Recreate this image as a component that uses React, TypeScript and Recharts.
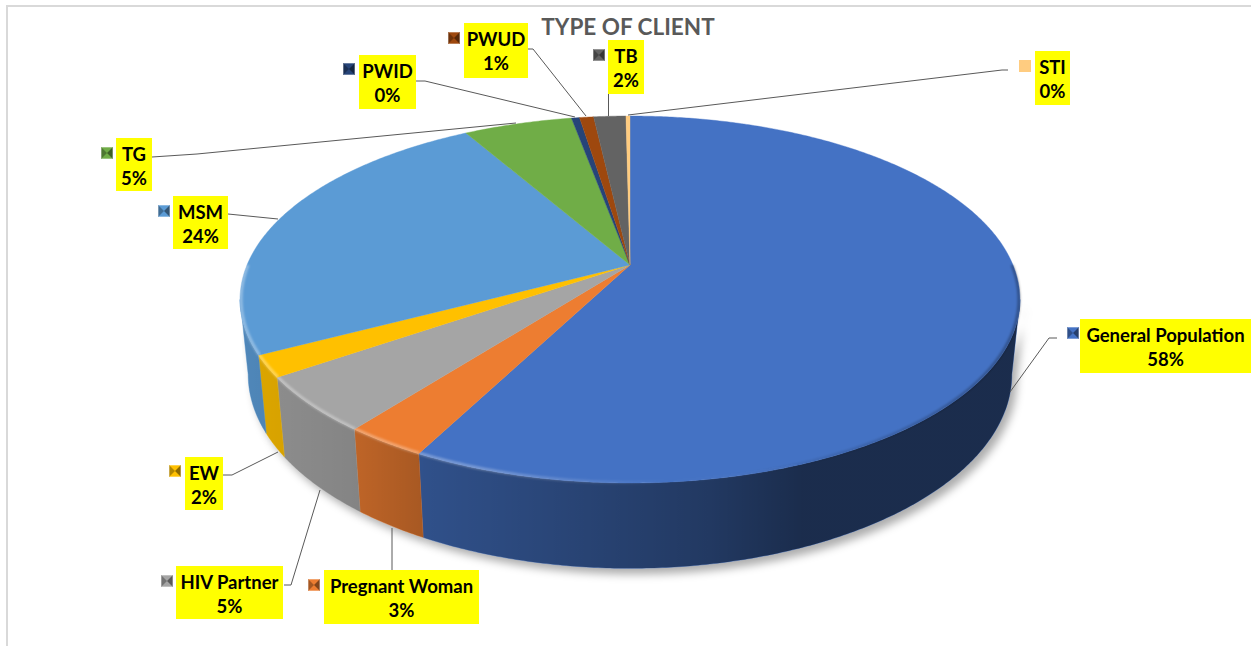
import { PieChart, Pie } from "recharts";

const CLIENT_TYPES = [
  "General Population",
  "Pregnant Woman",
  "HIV Partner",
  "EW",
  "MSM",
  "TG",
  "PWID",
  "PWUD",
  "TB",
  "STI",
];
const SHARES = [57.6, 2.9, 4.9, 1.9, 24.4, 5.4, 0.4, 0.7, 1.6, 0.2];
const COLORS = [
  "#4472c4",
  "#ed7d31",
  "#a5a5a5",
  "#ffc000",
  "#5b9bd5",
  "#70ad47",
  "#264478",
  "#9e480e",
  "#636363",
  "#ffcc80",
];

const data = CLIENT_TYPES.map((name, i) => ({
  name,
  value: SHARES[i],
  fill: COLORS[i],
}));

// ── Label boxes and leader lines, in client order ──
const LABEL_LAYOUT = [
  { box: [1080, 319, 171, 54], key: [1067, 327], leader: "1057,338 1049,338 1010,392" },
  { box: [324, 570, 155, 54], key: [308, 579], leader: "392,570 392,528" },
  { box: [176, 566, 107, 53], key: [161, 575], leader: "284,585 291,585 320,490" },
  { box: [185, 457, 38, 53], key: [169, 465], leader: "223,475 232,475 278,452" },
  { box: [173, 196, 55, 53], key: [158, 205], leader: "228,214 278,219" },
  { box: [116, 138, 36, 53], key: [101, 147], leader: "152,157 197,154 516,123" },
  { box: [359, 55, 57, 54], key: [343, 63], leader: "416,81 425,81 575,117" },
  { box: [464, 23, 64, 55], key: [448, 32], leader: "528,49 533,49 586,116" },
  { box: [608, 40, 36, 54], key: [593, 49], leader: "608.5,94 608.5,116" },
  { box: [1035, 51, 35, 54], key: [1019, 60], leader: "628,115 1002,70 1008,70" },
];

// ── Perspective of the pie: apex sits above the middle of the rim ellipse ──
const TILT = 0.188;
const TOP_SQUASH = 177 / 383;
const BASE_SCALE = 375 / 383;
const BASE_SQUASH = 187 / 383;
const BASE_DROP = 73;
const EDGE_ANGLE = (Math.asin(TILT) * 180) / Math.PI;

function rimPoint(cx: number, cy: number, r: number, deg: number, base: boolean) {
  const a = (deg * Math.PI) / 180;
  const u = Math.cos(a);
  const v = -Math.sin(a);
  const d = 1 - TILT * v;
  const x = cx + (r * (base ? BASE_SCALE : 1) * u) / d;
  const y = (base ? cy + BASE_DROP : cy) + (r * (base ? BASE_SQUASH : TOP_SQUASH) * v) / d;
  return `${x.toFixed(2)},${y.toFixed(2)}`;
}

function rimArc(cx: number, cy: number, r: number, from: number, to: number, base = false) {
  const steps = Math.max(2, Math.ceil(Math.abs(to - from) * 2));
  const pts: string[] = [];
  for (let i = 0; i <= steps; i++) {
    pts.push(rimPoint(cx, cy, r, from + ((to - from) * i) / steps, base));
  }
  return pts;
}

function wallPath(props: any) {
  const { cx, cy, outerRadius, startAngle, endAngle } = props;
  const from = Math.min(startAngle, -EDGE_ANGLE);
  const to = Math.max(endAngle, -180 + EDGE_ANGLE);
  if (from <= to) return null;
  const top = rimArc(cx, cy, outerRadius, from, to);
  const base = rimArc(cx, cy, outerRadius, to, from, true);
  return `M${top.join("L")}L${base.join("L")}Z`;
}

function ShadowShape(props: any) {
  const d = wallPath(props);
  if (!d) return null;
  return <path d={d} fill="#000" fillOpacity={0.32} filter="url(#wallBlur)" transform="translate(5 6)" />;
}

function WallShape(props: any) {
  const d = wallPath(props);
  if (!d) return null;
  return (
    <g>
      <path d={d} fill={props.fill} stroke={props.fill} strokeWidth={0.5} />
      <path d={d} fill="url(#wallShade)" />
    </g>
  );
}

function TopShape(props: any) {
  const { cx, cy, outerRadius, startAngle, endAngle, fill } = props;
  const arc = rimArc(cx, cy, outerRadius, startAngle, endAngle);
  const from = Math.min(startAngle, 0);
  const to = Math.max(endAngle, -180);
  return (
    <g>
      <path d={`M${cx},${cy}L${arc.join("L")}Z`} fill={fill} stroke={fill} strokeWidth={0.4} />
      {from > to && (
        <path
          d={`M${rimArc(cx, cy, outerRadius - 1, from, to).join("L")}`}
          fill="none"
          stroke="url(#rimShade)"
          strokeWidth={3}
          filter="url(#rimBlur)"
        />
      )}
    </g>
  );
}

function ClientLabel(props: any) {
  const i = props.index;
  const { box, key: swatch, leader } = LABEL_LAYOUT[i];
  const [x, y, w, h] = box;
  const [kx, ky] = swatch;
  const mid = x + w / 2;
  const s = 12;
  const color = COLORS[i];
  return (
    <g>
      <polyline points={leader} fill="none" stroke="#595959" strokeWidth={1} />
      <rect x={x} y={y} width={w} height={h} fill="#ffff00" />
      <rect x={kx} y={ky} width={s} height={s} fill={color} />
      {color !== "#ffcc80" && (
        <>
          <path d={`M${kx},${ky}L${kx + s / 2},${ky + s / 2}L${kx},${ky + s}Z`} fill="#000" fillOpacity={0.3} />
          <path d={`M${kx + s},${ky}L${kx + s / 2},${ky + s / 2}L${kx + s},${ky + s}Z`} fill="#000" fillOpacity={0.45} />
          <rect x={kx + 0.5} y={ky + 0.5} width={s - 1} height={s - 1} fill="none" stroke="#fff" strokeOpacity={0.3} />
        </>
      )}
      <text
        x={mid}
        y={y + 23}
        textAnchor="middle"
        fontFamily="Lato, sans-serif"
        fontWeight={700}
        fontSize={18.5}
        fill="#000"
      >
        {CLIENT_TYPES[i]}
      </text>
      <text
        x={mid}
        y={y + 47}
        textAnchor="middle"
        fontFamily="Lato, sans-serif"
        fontWeight={700}
        fontSize={18.5}
        fill="#000"
      >
        {`${Math.round(SHARES[i])}%`}
      </text>
    </g>
  );
}

const pieProps = {
  data,
  dataKey: "value",
  nameKey: "name",
  cx: 630,
  cy: 265,
  outerRadius: 383,
  startAngle: 90,
  endAngle: -270,
  paddingAngle: 0,
  stroke: "none",
  isAnimationActive: false,
};

export default function App() {
  return (
    <div
      style={{
        position: "absolute",
        left: 0,
        top: 0,
        width: 1251,
        height: 646,
        background: "#fff",
        overflow: "hidden",
      }}
    >
      <div
        style={{
          position: "absolute",
          left: 6,
          top: 5,
          right: 0,
          bottom: 0,
          borderLeft: "2px solid #d9d9d9",
          borderTop: "2px solid #d9d9d9",
        }}
      />
      <div style={{ position: "absolute", left: 0, top: 0 }}>
        <PieChart width={1251} height={646} margin={{ top: 0, right: 0, bottom: 0, left: 0 }}>
          <defs>
            <filter id="wallBlur" x="-10%" y="-10%" width="120%" height="120%">
              <feGaussianBlur stdDeviation="4" />
            </filter>
            <filter id="rimBlur" x="-5%" y="-5%" width="110%" height="110%">
              <feGaussianBlur stdDeviation="0.9" />
            </filter>
            <linearGradient id="wallShade" gradientUnits="userSpaceOnUse" x1="240" y1="0" x2="1020" y2="0">
              <stop offset="0" stopColor="#000" stopOpacity={0.13} />
              <stop offset="0.15" stopColor="#000" stopOpacity={0.2} />
              <stop offset="0.24" stopColor="#000" stopOpacity={0.3} />
              <stop offset="0.6" stopColor="#000" stopOpacity={0.5} />
              <stop offset="0.72" stopColor="#000" stopOpacity={0.61} />
              <stop offset="1" stopColor="#000" stopOpacity={0.61} />
            </linearGradient>
            <linearGradient id="rimShade" gradientUnits="userSpaceOnUse" x1="240" y1="0" x2="1020" y2="0">
              <stop offset="0" stopColor="#fff" stopOpacity={0.35} />
              <stop offset="0.3" stopColor="#fff" stopOpacity={0.3} />
              <stop offset="0.55" stopColor="#fff" stopOpacity={0} />
              <stop offset="0.75" stopColor="#000" stopOpacity={0.1} />
              <stop offset="1" stopColor="#000" stopOpacity={0.3} />
            </linearGradient>
          </defs>
          <Pie {...pieProps} shape={ShadowShape} />
          <Pie {...pieProps} shape={WallShape} />
          <Pie {...pieProps} shape={TopShape} label={ClientLabel} labelLine={false} />
          <text
            x={628}
            y={35}
            textAnchor="middle"
            fontFamily="Lato, sans-serif"
            fontWeight={700}
            fontSize={22.5}
            fill="#595959"
          >
            TYPE OF CLIENT
          </text>
        </PieChart>
      </div>
    </div>
  );
}
